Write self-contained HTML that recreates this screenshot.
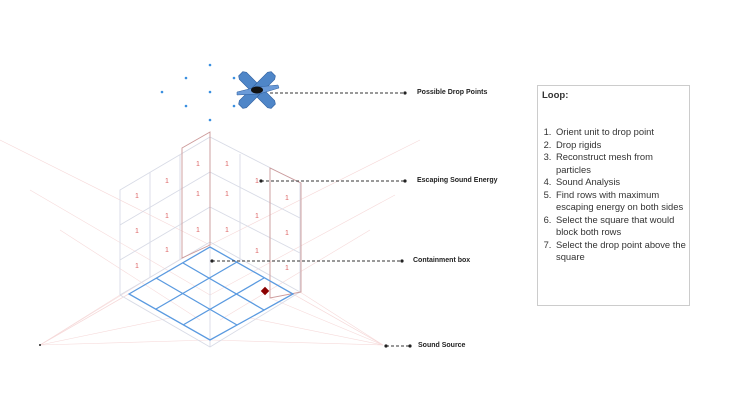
<!DOCTYPE html>
<html><head><style>
html,body{margin:0;padding:0;background:#fff;}
body{width:730px;height:411px;overflow:hidden;position:relative;font-family:"Liberation Sans",sans-serif;}
.box{position:absolute;left:537px;top:85px;width:151px;height:219px;border:1px solid #ccc;font-size:9.4px;color:#333;line-height:12.5px;}
.box b{position:absolute;left:4px;top:4px;font-size:9.5px;}
.box ol{position:absolute;left:0;top:40px;margin:0;padding-left:16px;width:133px;}
.box li{padding-left:2px;}
.lbl{position:absolute;font-size:7px;font-weight:bold;color:#222;}
</style></head><body>
<svg width="730" height="411" style="position:absolute;left:0;top:0">
<g stroke="#f6dada" stroke-width="0.6" fill="none">
<line x1="40" y1="345" x2="210" y2="247"/><line x1="40" y1="345" x2="120" y2="295"/><line x1="40" y1="345" x2="182" y2="258"/>
<line x1="40" y1="345" x2="129" y2="294"/><line x1="40" y1="345" x2="210" y2="340"/><line x1="40" y1="345" x2="170" y2="318"/>
<line x1="383" y1="345" x2="210" y2="247"/><line x1="383" y1="345" x2="300" y2="292"/><line x1="383" y1="345" x2="270" y2="298"/>
<line x1="383" y1="345" x2="210" y2="340"/><line x1="383" y1="345" x2="250" y2="318"/><line x1="383" y1="345" x2="293" y2="294"/>
<line x1="0" y1="140" x2="210" y2="245"/><line x1="420" y1="140" x2="210" y2="245"/><line x1="30" y1="190" x2="210" y2="295"/>
<line x1="395" y1="195" x2="210" y2="295"/><line x1="60" y1="230" x2="200" y2="320"/><line x1="370" y1="230" x2="220" y2="320"/>
</g>
<g stroke="#d8dbe6" stroke-width="0.9" fill="none">
<polygon points="120,190 210,137 300,183 300,292 210,347 120,295"/>
<line x1="210" y1="137" x2="210" y2="347"/>
<line x1="150" y1="172" x2="150" y2="277"/><line x1="180" y1="155" x2="180" y2="260"/>
<line x1="240" y1="154" x2="240" y2="262"/><line x1="270" y1="168" x2="270" y2="277"/>
<line x1="120" y1="225" x2="210" y2="172"/><line x1="120" y1="260" x2="210" y2="207"/>
<line x1="210" y1="172" x2="300" y2="218"/><line x1="210" y1="207" x2="300" y2="253"/>
<line x1="120" y1="295" x2="210" y2="242"/><line x1="210" y1="242" x2="300" y2="292"/>
</g>
<g stroke="#c99" stroke-width="0.9" fill="none">
<polygon points="182,148 210,132 210,245 182,258"/>
<polygon points="270,168 301,183 301,292 270,298"/>
</g>
<g stroke="#5a9ae0" stroke-width="1.3" fill="none">
<polygon points="129,294 210,247 293,294 210,340"/>
<line x1="156" y1="278" x2="237" y2="325"/><line x1="183" y1="263" x2="264" y2="310"/>
<line x1="156" y1="309" x2="237" y2="262"/><line x1="183" y1="325" x2="264" y2="278"/>
</g>
<rect x="262" y="288" width="6" height="6" fill="#8b0000" transform="rotate(45 265 291)"/>
<g fill="#d66" font-size="7" font-family="Liberation Sans">
<text x="196" y="166">1</text><text x="225" y="166">1</text><text x="165" y="183">1</text><text x="135" y="198">1</text>
<text x="196" y="196">1</text><text x="225" y="196">1</text><text x="165" y="218">1</text><text x="135" y="233">1</text>
<text x="196" y="232">1</text><text x="225" y="232">1</text><text x="165" y="252">1</text><text x="135" y="268">1</text>
<text x="255" y="183">1</text><text x="255" y="218">1</text><text x="255" y="253">1</text>
<text x="285" y="200">1</text><text x="285" y="235">1</text><text x="285" y="270">1</text>
</g>
<g fill="#3a8fe0">
<circle cx="210" cy="65" r="1.3"/><circle cx="186" cy="78" r="1.3"/><circle cx="234" cy="78" r="1.3"/>
<circle cx="162" cy="92" r="1.3"/><circle cx="210" cy="92" r="1.3"/><circle cx="186" cy="106" r="1.3"/>
<circle cx="234" cy="106" r="1.3"/><circle cx="210" cy="120" r="1.3"/>
</g>
<g transform="translate(257,90)">
<g transform="rotate(45)" fill="#4f86c8" stroke="#2f5f9f" stroke-width="0.6">
<polygon points="-23,-3 -20,-5 20,-5 23,-3 23,3 20,5 -20,5 -23,3"/>
<polygon points="-3,-23 -5,-20 -5,20 -3,23 3,23 5,20 5,-20 3,-23"/>
</g>
<polygon points="-20,2 0,-3 21,-5 22,-2 2,4 -20,5" fill="#6a9ad8" stroke="#2d5e9e" stroke-width="0.5"/>
<ellipse cx="0" cy="0" rx="6" ry="3.5" fill="#111"/>
</g>
<g stroke="#333" stroke-width="0.9" stroke-dasharray="3,2">
<line x1="270" y1="93" x2="405" y2="93"/><line x1="261" y1="181" x2="405" y2="181"/>
<line x1="212" y1="261" x2="402" y2="261"/><line x1="386" y1="346" x2="410" y2="346"/>
</g>
<g fill="#222">
<circle cx="405" cy="93" r="1.6"/><circle cx="261" cy="181" r="1.6"/><circle cx="405" cy="181" r="1.6"/>
<circle cx="212" cy="261" r="1.6"/><circle cx="402" cy="261" r="1.6"/><circle cx="386" cy="346" r="1.6"/>
<circle cx="410" cy="346" r="1.6"/><circle cx="40" cy="345" r="1"/>
</g>
</svg>
<div class="lbl" style="left:417px;top:89px">Possible Drop Points</div>
<div class="lbl" style="left:417px;top:177px">Escaping Sound Energy</div>
<div class="lbl" style="left:413px;top:257px">Containment box</div>
<div class="lbl" style="left:418px;top:342px">Sound Source</div>
<div class="box"><b>Loop:</b>
<ol>
<li>Orient unit to drop point</li>
<li>Drop rigids</li>
<li>Reconstruct mesh from particles</li>
<li>Sound Analysis</li>
<li>Find rows with maximum escaping energy on both sides</li>
<li>Select the square that would block both rows</li>
<li>Select the drop point above the square</li>
</ol></div>
</body></html>
